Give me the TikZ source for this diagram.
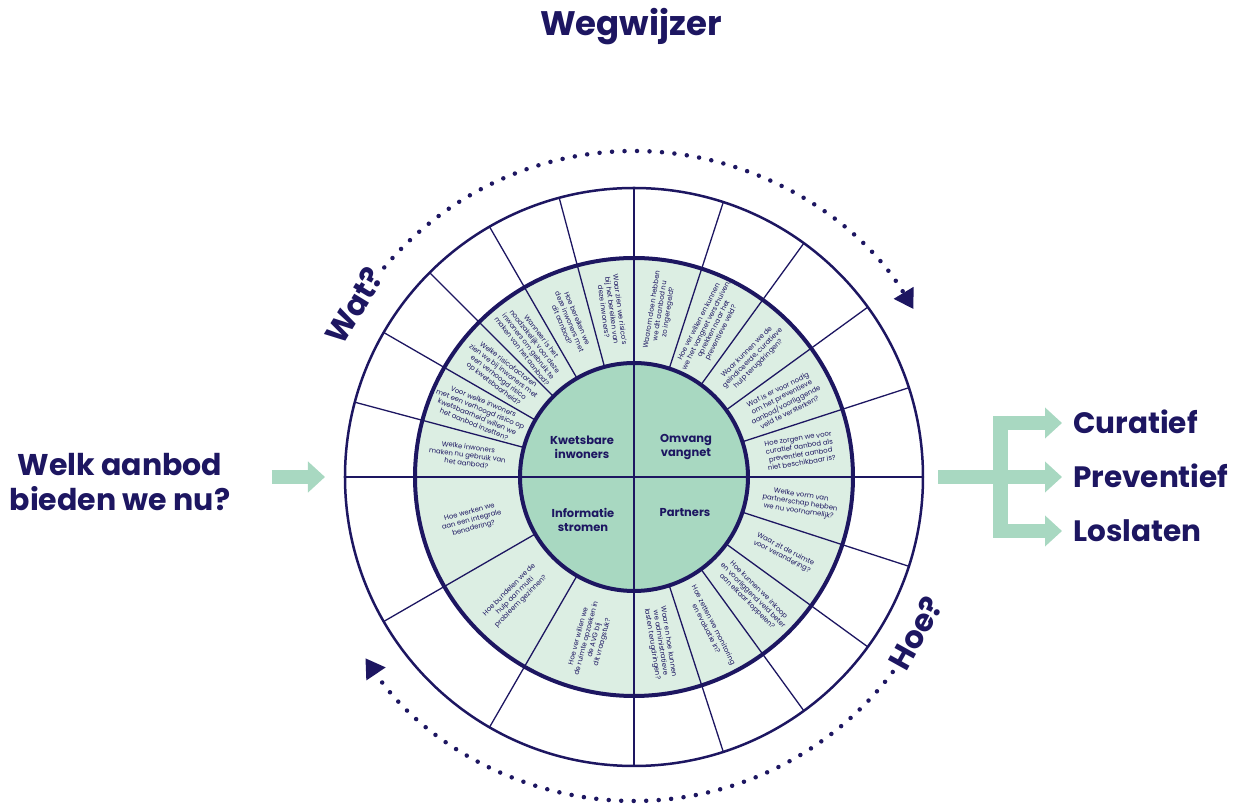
\documentclass[tikz,border=0pt]{standalone}
\usepackage{fontspec}
\setmainfont{Poppins}
\usetikzlibrary{arrows.meta}
\definecolor{navy}{RGB}{29,22,97}
\definecolor{ringgreen}{RGB}{220,238,227}
\definecolor{coregreen}{RGB}{168,216,193}

\begin{document}
\begin{tikzpicture}[x=1pt, y=1pt,
    question/.style={align=center, inner sep=0pt, text=navy, font=\fontsize{6.9}{8.2}\selectfont},
    core/.style={align=center, inner sep=0pt, text=navy, font=\bfseries\fontsize{11.5}{14}\selectfont},
    big/.style={inner sep=0pt, text=navy, font=\bfseries\fontsize{31}{36}\selectfont},
    divider/.style={navy, line width=1.3pt},
    dots/.style={navy, line width=4.5pt, line cap=round, dash pattern=on 0pt off 12.5pt},
    garrow/.style={coregreen, line width=14pt, -{Triangle[length=17pt, width=30pt]}}]
  \useasboundingbox (-634,-328) rectangle (614,477);
  \node[big, font=\bfseries\fontsize{34}{40}\selectfont] (title) at (-3,450) {Wegwijzer};

  % wheel
  \fill[ringgreen] (0,0) circle (219);
  \fill[coregreen] (0,0) circle (114);
  \foreach \a in {105,120,135,150,165,210,240,18,36,54,72,-18,-36,-54,-72}{ \draw[divider] (\a:114) -- (\a:289); }
  \draw[navy, line width=2pt] (-289,0) -- (289,0) (0,-289) -- (0,289);
  \draw[navy, line width=2.5pt] (0,0) circle (289);
  \draw[navy, line width=4pt] (0,0) circle (219) (0,0) circle (114);

  \node[core] (kwets) at (-52,30) {Kwetsbare\\inwoners};
  \node[core] (omvang) at (52,30) {Omvang\\vangnet};
  \node[core] (info) at (-51,-43) {Informatie\\stromen};
  \node[core] (partners) at (51,-36) {Partners};

  % vragen, links en rechts
  \foreach \a/\t [count=\i] in {
      172.5/{Welke inwoners\\maken nu gebruik van\\het aanbod?},
      157.5/{Voor welke inwoners\\met een verhoogd risico op\\kwetsbaarheid willen we\\het aanbod inzetten?},
      142.5/{Welke risicofactoren\\zien we bij inwoners met\\een verhoogd risico\\op kwetsbaarheid?},
      127.5/{Wanneer is het\\noodzakelijk voor deze\\inwoners om gebruik te\\maken van het aanbod?},
      112.5/{Hoe bereiken we\\deze inwoners met\\dit aanbod?},
      97.5/{Waar zien we risico's\\bij het bereiken van\\deze inwoners?},
      195/{Hoe werken we\\aan een integrale\\benadering?},
      225/{Hoe bundelen we de\\hulp aan multi\\probleem gezinnen?},
      255/{Hoe ver willen we\\de ruimte opzoeken in\\de AVG bij\\dit vraagstuk?}}
    { \node[question, rotate=\a-180] (l\i) at (\a:168) {\t}; }
  \foreach \a/\t [count=\i] in {
      81/{Waarom doen hebben\\we dit aanbod nu\\zo ingeregeld?},
      63/{Hoe ver willen en kunnen\\we het vangnet verschuiven,\\oprekken naar het\\preventieve veld?},
      45/{Waar kunnen we de\\geïndiceerde, curatieve\\hulp terugdringen?},
      27/{Wat is er voor nodig\\om het preventieve\\aanbod/voorliggende\\veld te versterken?},
      9/{Hoe zorgen we voor\\curatief aanbod als\\preventief aanbod\\niet beschikbaar is?},
      -9/{Welke vorm van\\partnerschap hebben\\we nu voornamelijk?},
      -27/{Waar zit de ruimte\\voor verandering?},
      -45/{Hoe kunnen we inkoop\\en voorliggend veld beter\\aan elkaar koppelen?},
      -63/{Hoe zetten we monitoring\\en evaluatie in?},
      -81/{Waar en hoe kunnen\\we administratieve\\lasten terugdringen?}}
    { \node[question, rotate=\a] (r\i) at (\a:168) {\t}; }

  % rondgang
  \draw[dots, -{Triangle[length=19pt, width=22pt]}] (140:326) arc[start angle=140, end angle=31, radius=326];
  \draw[dots, -{Triangle[length=19pt, width=22pt]}] (-37:324) arc[start angle=-37, end angle=-146, radius=324];
  \node[big, rotate=58.5] (wat) at (148.5:328) {Wat?};
  \node[big, rotate=61] (hoe) at (-29:322) {Hoe?};

  % in en uit
  \node[big, align=center, font=\bfseries\fontsize{30}{35}\selectfont] (vraag) at (-514,-5) {Welk aanbod\\bieden we nu?};
  \coordinate (in1) at (-362,0);
  \coordinate (in2) at (-309,0);
  \draw[garrow] (in1) -- (in2);
  \coordinate (fork) at (366,0);
  \draw[coregreen, line width=14pt] (304,0) -- (fork);
  \draw[coregreen, line width=15pt] (366,61) -- (366,-61);
  \foreach \y/\t [count=\i] in {54/Curatief, 0/Preventief, -54/Loslaten}{
    \draw[garrow] (359,\y) -- (428,\y);
    \node[big, anchor=base west, font=\bfseries\fontsize{29.5}{34}\selectfont] (uit\i) at (439,\y-10.5) {\t};
  }
\end{tikzpicture}
\end{document}
